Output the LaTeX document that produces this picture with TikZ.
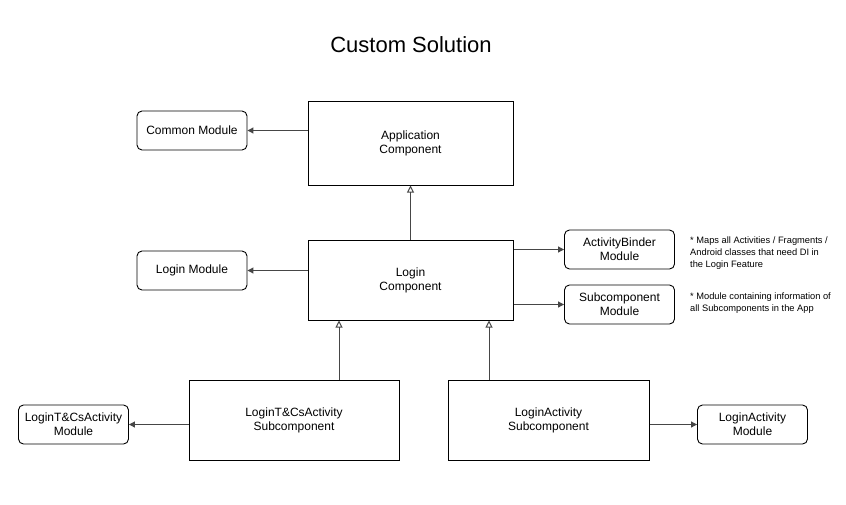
\documentclass[tikz,border=0pt]{standalone}
\usepackage{fontspec}
\setmainfont{Liberation Sans}
\usetikzlibrary{positioning,arrows.meta}
\definecolor{linegray}{RGB}{70,70,70}
\tikzstyle{comp} = [draw, line width=1pt, minimum width=205pt, minimum height=84pt, align=center]
\tikzstyle{sub} = [draw, line width=1pt, minimum width=208pt, minimum height=80pt, align=center]
\tikzstyle{module} = [draw, line width=0.9pt, rounded corners=5pt, minimum width=110pt, minimum height=39pt, align=center]
\tikzstyle{uses} = [draw=linegray, line width=1pt, -{Triangle[length=6pt,width=6pt]}]
\tikzstyle{dependson} = [draw=linegray, line width=1pt, -{Triangle[open,length=7pt,width=7pt]}]
\tikzstyle{note} = [font=\fontsize{9.3}{11.8}\selectfont, align=left, anchor=north west, inner sep=0pt]

\begin{document}
\begin{tikzpicture}[x=1pt,y=-1pt,font=\fontsize{12}{14}\selectfont]
			\useasboundingbox (0,0) rectangle (846,504);
			\node[font=\fontsize{22}{24}\selectfont] (title) at (411,45) {Custom Solution};
			\node[comp] (app) at (410.5,143) {Application\\Component};
			\node[comp, minimum height=80pt] (login) at (410.5,280) {Login\\Component};
			\node[module] (common) at (192,130.5) {Common Module};
			\node[module] (loginmod) at (192,270.5) {Login Module};
			\node[module] (binder) at (619.5,249.5) {ActivityBinder\\Module};
			\node[module] (submod) at (619.5,304.5) {Subcomponent\\Module};
			\node[note] (bindernote) at (690,237) {* Maps all Activities / Fragments /\\Android classes that need DI in\\the Login Feature};
			\node[note] (subnote) at (690,293) {* Module containing information of\\all Subcomponents in the App};
			\node[sub, minimum width=210pt] (tcs) at (294,420) {LoginT\&CsActivity\\Subcomponent};
			\node[sub, minimum width=201pt] (act) at (548.5,420) {LoginActivity\\Subcomponent};
			\node[module] (tcsmod) at (73.5,424.5) {LoginT\&CsActivity\\Module};
			\node[module] (actmod) at (752.5,424.5) {LoginActivity\\Module};
			% arrows to modules
			\draw[uses] (app.west |- common) -- (common);
			\draw[uses] (login.west |- loginmod) -- (loginmod);
			\draw[uses] (login.east |- binder) -- (binder);
			\draw[uses] (login.east |- submod) -- (submod);
			\draw[uses] (tcs.west |- tcsmod) -- (tcsmod);
			\draw[uses] (act.east |- actmod) -- (actmod);
			% component hierarchy
			\draw[dependson] (login) -- (app);
			\draw[dependson] ([xshift=45pt]tcs.north) -- ([xshift=45pt]tcs.north |- login.south);
			\draw[dependson] ([xshift=-59.5pt]act.north) -- ([xshift=-59.5pt]act.north |- login.south);
		\end{tikzpicture}
\end{document}
